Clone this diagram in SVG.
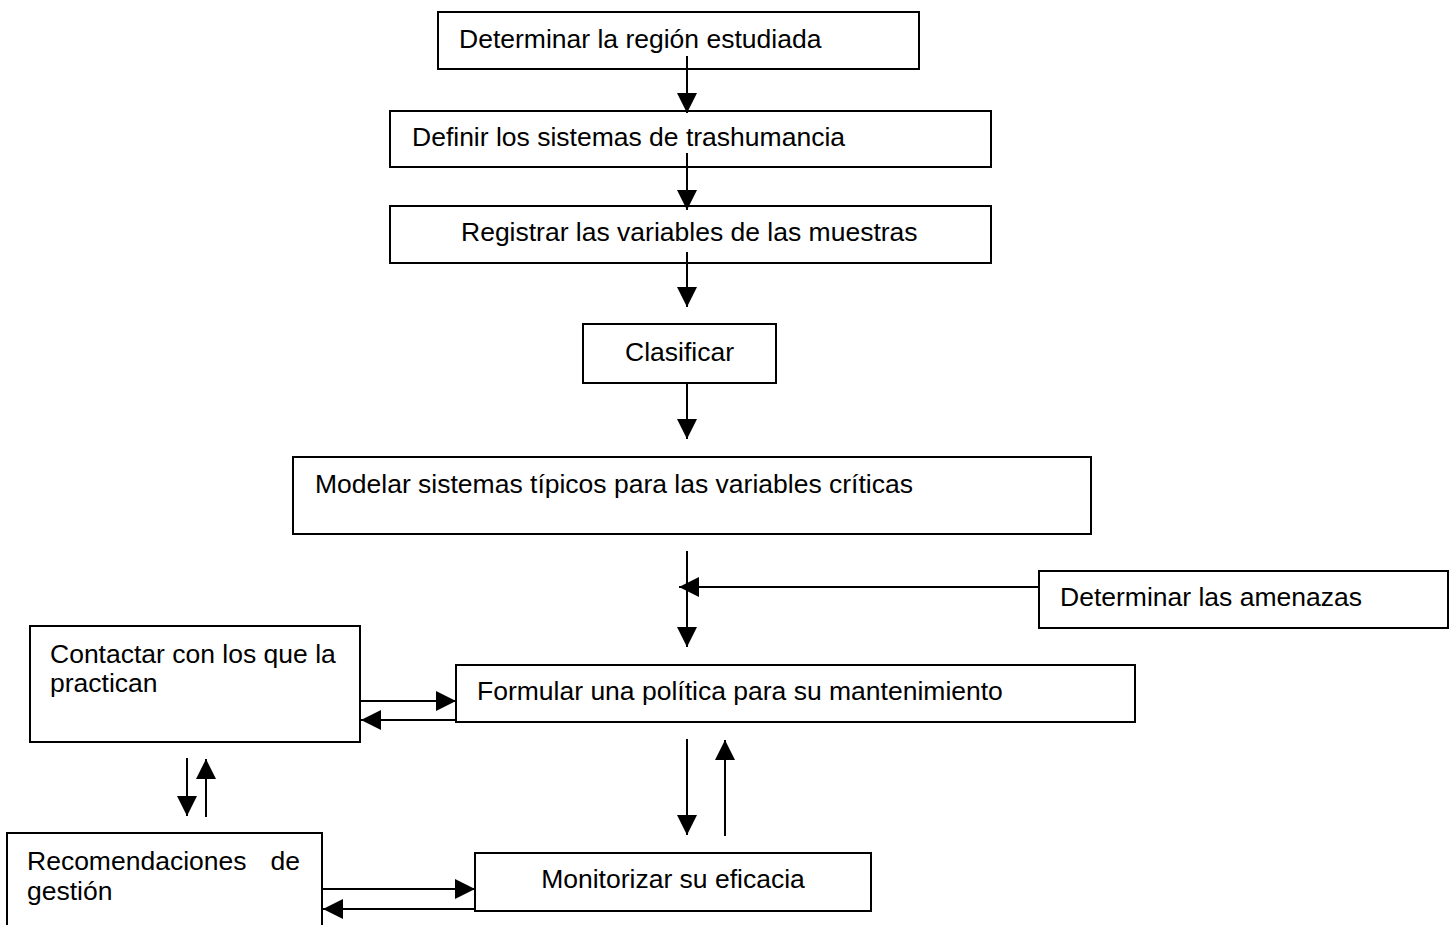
<svg xmlns="http://www.w3.org/2000/svg" width="1451" height="925" viewBox="0 0 1451 925">
<style>
.box{fill:#fff;stroke:#000;stroke-width:2}
.t{font-family:"Liberation Sans",Arial,sans-serif;font-size:26.5px;fill:#000}
.c{stroke:#000;stroke-width:2;fill:none;marker-end:url(#ah)}
</style>
<defs>
<marker id="ah" markerUnits="userSpaceOnUse" markerWidth="20" markerHeight="20" refX="20" refY="10" orient="auto">
<path d="M0,0 L20,10 L0,20 Z" fill="#000"/>
</marker>
</defs>
<rect width="1451" height="925" fill="#fff"/>
<g id="n1"><rect class="box" x="438" y="12" width="481" height="57"/><text class="t" x="459" y="48">Determinar la región estudiada</text></g>
<g id="n2"><rect class="box" x="390" y="111" width="601" height="56"/><text class="t" x="412" y="146">Definir los sistemas de trashumancia</text></g>
<g id="n3"><rect class="box" x="390" y="206" width="601" height="57"/><text class="t" x="461" y="241">Registrar las variables de las muestras</text></g>
<g id="n4"><rect class="box" x="583" y="324" width="193" height="59"/><text class="t" x="625" y="361">Clasificar</text></g>
<g id="n5"><rect class="box" x="293" y="457" width="798" height="77"/><text class="t" x="315" y="493">Modelar sistemas típicos para las variables críticas</text></g>
<g id="n6"><rect class="box" x="1039" y="571" width="409" height="57"/><text class="t" x="1060" y="606">Determinar las amenazas</text></g>
<g id="n7"><rect class="box" x="456" y="665" width="679" height="57"/><text class="t" x="477" y="700">Formular una política para su mantenimiento</text></g>
<g id="n8"><rect class="box" x="30" y="626" width="330" height="116"/><text class="t" x="50" y="663">Contactar con los que la</text><text class="t" x="50" y="692">practican</text></g>
<g id="n9"><rect class="box" x="7" y="833" width="315" height="100"/><text class="t" x="27" y="870">Recomendaciones</text><text class="t" x="300" y="870" text-anchor="end">de</text><text class="t" x="27" y="900">gestión</text></g>
<g id="n10"><rect class="box" x="475" y="853" width="396" height="58"/><text class="t" x="673" y="888" text-anchor="middle">Monitorizar su eficacia</text></g>
<g id="connectors">
<line class="c" x1="687" y1="56" x2="687" y2="113"/>
<line class="c" x1="687" y1="153" x2="687" y2="210"/>
<line class="c" x1="687" y1="252" x2="687" y2="307"/>
<line class="c" x1="687" y1="383" x2="687" y2="439"/>
<line class="c" x1="687" y1="551" x2="687" y2="647"/>
<line class="c" x1="1039" y1="587" x2="679" y2="587"/>
<line class="c" x1="687" y1="739" x2="687" y2="835"/>
<line class="c" x1="725" y1="836" x2="725" y2="740"/>
<line class="c" x1="360" y1="701" x2="456" y2="701"/>
<line class="c" x1="456" y1="720" x2="361" y2="720"/>
<line class="c" x1="187" y1="758" x2="187" y2="816"/>
<line class="c" x1="206" y1="817" x2="206" y2="759"/>
<line class="c" x1="322" y1="889" x2="475" y2="889"/>
<line class="c" x1="475" y1="909" x2="323" y2="909"/>
</g>
</svg>
